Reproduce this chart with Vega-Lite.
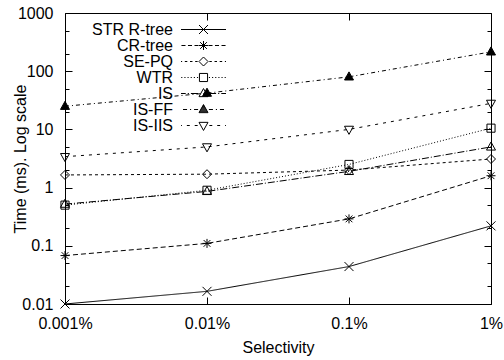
{
  "$schema": "https://vega.github.io/schema/vega-lite/v6.json",
  "width": 426,
  "height": 291,
  "autosize": {"type": "none"},
  "padding": {"left": 65, "top": 13, "right": 13, "bottom": 56},
  "background": "white",
  "config": {
    "view": {"stroke": "black", "strokeWidth": 1},
    "font": "Liberation Sans",
    "axis": {
      "grid": false,
      "domain": false,
      "tickColor": "black",
      "tickWidth": 1,
      "labelColor": "black",
      "titleColor": "black",
      "labelFontSize": 16,
      "titleFontSize": 16,
      "titleFontWeight": "normal",
      "labelFont": "Liberation Sans",
      "titleFont": "Liberation Sans"
    },
    "legend": {"labelFontSize": 16, "labelFont": "Liberation Sans", "labelColor": "black"}
  },
  "data": {
    "values": [
      {"series": "STR R-tree", "sel": 0.001, "time": 0.01},
      {"series": "STR R-tree", "sel": 0.01, "time": 0.0165},
      {"series": "STR R-tree", "sel": 0.1, "time": 0.044},
      {"series": "STR R-tree", "sel": 1, "time": 0.22},
      {"series": "CR-tree", "sel": 0.001, "time": 0.068},
      {"series": "CR-tree", "sel": 0.01, "time": 0.11},
      {"series": "CR-tree", "sel": 0.1, "time": 0.29},
      {"series": "CR-tree", "sel": 1, "time": 1.6},
      {"series": "SE-PQ", "sel": 0.001, "time": 1.65},
      {"series": "SE-PQ", "sel": 0.01, "time": 1.7},
      {"series": "SE-PQ", "sel": 0.1, "time": 2.0},
      {"series": "SE-PQ", "sel": 1, "time": 3.1},
      {"series": "WTR", "sel": 0.001, "time": 0.5},
      {"series": "WTR", "sel": 0.01, "time": 0.9},
      {"series": "WTR", "sel": 0.1, "time": 2.5},
      {"series": "WTR", "sel": 1, "time": 10.5},
      {"series": "IS", "sel": 0.001, "time": 0.52},
      {"series": "IS", "sel": 0.01, "time": 0.86},
      {"series": "IS", "sel": 0.1, "time": 1.9},
      {"series": "IS", "sel": 1, "time": 5.0},
      {"series": "IS-FF", "sel": 0.001, "time": 25},
      {"series": "IS-FF", "sel": 0.01, "time": 42},
      {"series": "IS-FF", "sel": 0.1, "time": 80},
      {"series": "IS-FF", "sel": 1, "time": 215},
      {"series": "IS-IIS", "sel": 0.001, "time": 3.4},
      {"series": "IS-IIS", "sel": 0.01, "time": 5.0},
      {"series": "IS-IIS", "sel": 0.1, "time": 10},
      {"series": "IS-IIS", "sel": 1, "time": 28}
    ]
  },
  "resolve": {"scale": {"x": "independent", "y": "independent", "shape": "independent", "fill": "independent"}},
  "layer": [
    {
      "mark": {"type": "line", "color": "black", "strokeWidth": 1, "clip": false},
      "encoding": {
        "x": {
          "field": "sel", "type": "quantitative",
          "scale": {"type": "log", "domain": [0.001, 1], "nice": false},
          "axis": {
            "orient": "bottom",
            "values": [0.001, 0.01, 0.1, 1],
            "labelExpr": "datum.value + '%'",
            "tickSize": -7,
            "labelPadding": 18.5,
            "labelFlush": false,
            "labelOverlap": false,
            "title": "Selectivity",
            "titleX": 213,
            "titleY": 48,
            "titleBaseline": "alphabetic",
            "titleAlign": "center"
          }
        },
        "y": {
          "field": "time", "type": "quantitative",
          "scale": {"type": "log", "domain": [0.01, 1000], "nice": false},
          "axis": {
            "orient": "left",
            "values": [0.01, 0.1, 1, 10, 100, 1000],
            "labelExpr": "datum.value < 1 ? format(datum.value, '') : format(datum.value, 'd')",
            "tickSize": -7,
            "labelPadding": 19,
            "labelOverlap": false,
            "labelFlush": false,
            "title": "Time (ms). Log scale",
            "titleX": -45,
            "titleY": 145.5,
            "titleAngle": -90,
            "titleBaseline": "middle",
            "titleAlign": "center"
          }
        },
        "detail": {"field": "series"},
        "strokeDash": {
          "field": "series", "type": "nominal",
          "scale": {
            "domain": ["CR-tree", "STR R-tree", "SE-PQ", "WTR", "IS", "IS-FF", "IS-IIS"],
            "range": [[5, 3], [1, 0], [3, 3], [1, 2], [7, 2, 1, 2], [4, 3, 1, 3], [3, 5]]
          },
          "legend": null
        }
      }
    },
    {
      "mark": {"type": "point", "filled": false, "stroke": "black", "strokeWidth": 1, "size": 81, "opacity": 1, "clip": false},
      "encoding": {
        "x": {
          "field": "sel", "type": "quantitative",
          "scale": {"type": "log", "domain": [0.001, 1], "nice": false},
          "axis": {"orient": "top", "values": [0.001, 0.01, 0.1, 1], "labels": false, "tickSize": -7, "title": null}
        },
        "y": {
          "field": "time", "type": "quantitative",
          "scale": {"type": "log", "domain": [0.01, 1000], "nice": false},
          "axis": {"orient": "right", "values": [0.01, 0.1, 1, 10, 100, 1000], "labels": false, "tickSize": -7, "title": null}
        },
        "fill": {
          "field": "series", "type": "nominal",
          "scale": {
            "domain": ["IS-FF", "STR R-tree", "CR-tree", "SE-PQ", "WTR", "IS", "IS-IIS"],
            "range": ["black", "transparent", "transparent", "transparent", "transparent", "transparent", "transparent"]
          },
          "legend": null
        },
        "shape": {
          "field": "series", "type": "nominal",
          "scale": {
            "domain": ["IS-IIS", "STR R-tree", "CR-tree", "SE-PQ", "WTR", "IS", "IS-FF"],
            "range": [
              "M0,1.1L1,-0.7L-1,-0.7Z",
              "M-1,-1L1,1M-1,1L1,-1",
              "M-1,0H1M0,-1V1M-0.75,-0.75L0.75,0.75M-0.75,0.75L0.75,-0.75",
              "M0,-1L1,0L0,1L-1,0Z",
              "M-0.9,-0.9H0.9V0.9H-0.9Z",
              "M0,-1.1L1,0.7L-1,0.7Z",
              "M0,-1.1L1,0.7L-1,0.7Z"
            ]
          },
          "legend": null
        }
      }
    },
    {
      "mark": {"type": "point", "filled": false, "color": "black", "stroke": "black", "strokeWidth": 1, "size": 81, "opacity": 0},
      "encoding": {
        "x": {
          "field": "sel", "type": "quantitative",
          "scale": {"type": "log", "domain": [0.001, 1], "nice": false},
          "axis": null
        },
        "y": {
          "field": "time", "type": "quantitative",
          "scale": {"type": "log", "domain": [0.01, 1000], "nice": false},
          "axis": {"orient": "left", "values": [0.02, 0.05, 0.2, 0.5, 2, 5, 20, 50, 200, 500], "labels": false, "tickSize": -4, "title": null}
        },
        "shape": {
          "field": "series", "type": "nominal",
          "scale": {
            "domain": ["STR R-tree", "CR-tree", "SE-PQ", "WTR", "IS", "IS-FF", "IS-IIS"],
            "range": [
              "M-5,0H5M-1,-1L1,1M-1,1L1,-1",
              "M1.1,0H2M2.55,0H3.45M4,0H4.9M-1.1,0H-2M-2.55,0H-3.45M-4,0H-4.9M-1,0H1M0,-1V1M-0.75,-0.75L0.75,0.75M-0.75,0.75L0.75,-0.75",
              "M1.3,0H1.85M2.45,0H3M3.6,0H4.15M4.75,0H5M-1.3,0H-1.85M-2.45,0H-3M-3.6,0H-4.15M-4.75,0H-5M0,-1L1,0L0,1L-1,0Z",
              "M1.2,0H1.45M1.9,0H2.15M2.6,0H2.85M3.3,0H3.55M4,0H4.25M4.7,0H4.95M-1.2,0H-1.45M-1.9,0H-2.15M-2.6,0H-2.85M-3.3,0H-3.55M-4,0H-4.25M-4.7,0H-4.95M-0.9,-0.9H0.9V0.9H-0.9Z",
              "M1.2,0H2.8M3.25,0H3.5M3.95,0H5M-1.2,0H-2.8M-3.25,0H-3.5M-3.95,0H-5M0,-1.1L1,0.7L-1,0.7Z",
              "M1.2,0H2.1M2.75,0H3M3.65,0H4.55M-1.2,0H-2.1M-2.75,0H-3M-3.65,0H-4.55M0,-1.1L1,0.7L-1,0.7ZM-0.11,-0.9H0.11M-0.22,-0.7H0.22M-0.33,-0.5H0.33M-0.44,-0.3H0.44M-0.56,-0.1H0.56M-0.67,0.1H0.67M-0.78,0.3H0.78M-0.89,0.5H0.89",
              "M1.3,0H1.95M3.05,0H3.7M4.8,0H5M-1.3,0H-1.95M-3.05,0H-3.7M-4.8,0H-5M0,1.1L1,-0.7L-1,-0.7Z"
            ]
          },
          "legend": {
            "orient": "none",
            "legendX": 17,
            "legendY": 8.5,
            "title": null,
            "padding": 0,
            "rowPadding": 0,
            "labelAlign": "right",
            "labelBaseline": "middle",
            "labelOffset": -38.5,
            "symbolOffset": 113.5,
            "symbolSize": 81,
            "symbolStrokeWidth": 1,
            "symbolStrokeColor": "black",
            "symbolFillColor": "transparent",
            "symbolOpacity": 1,
            "labelFontSize": 16,
            "labelFont": "Liberation Sans",
            "labelColor": "black"
          }
        }
      }
    },
    {
      "mark": {"type": "point", "opacity": 0},
      "encoding": {
        "x": {
          "field": "sel", "type": "quantitative",
          "scale": {"type": "log", "domain": [0.001, 1], "nice": false},
          "axis": null
        },
        "y": {
          "field": "time", "type": "quantitative",
          "scale": {"type": "log", "domain": [0.01, 1000], "nice": false},
          "axis": {"orient": "right", "values": [0.02, 0.05, 0.2, 0.5, 2, 5, 20, 50, 200, 500], "labels": false, "tickSize": -4, "title": null}
        }
      }
    }
  ]
}
